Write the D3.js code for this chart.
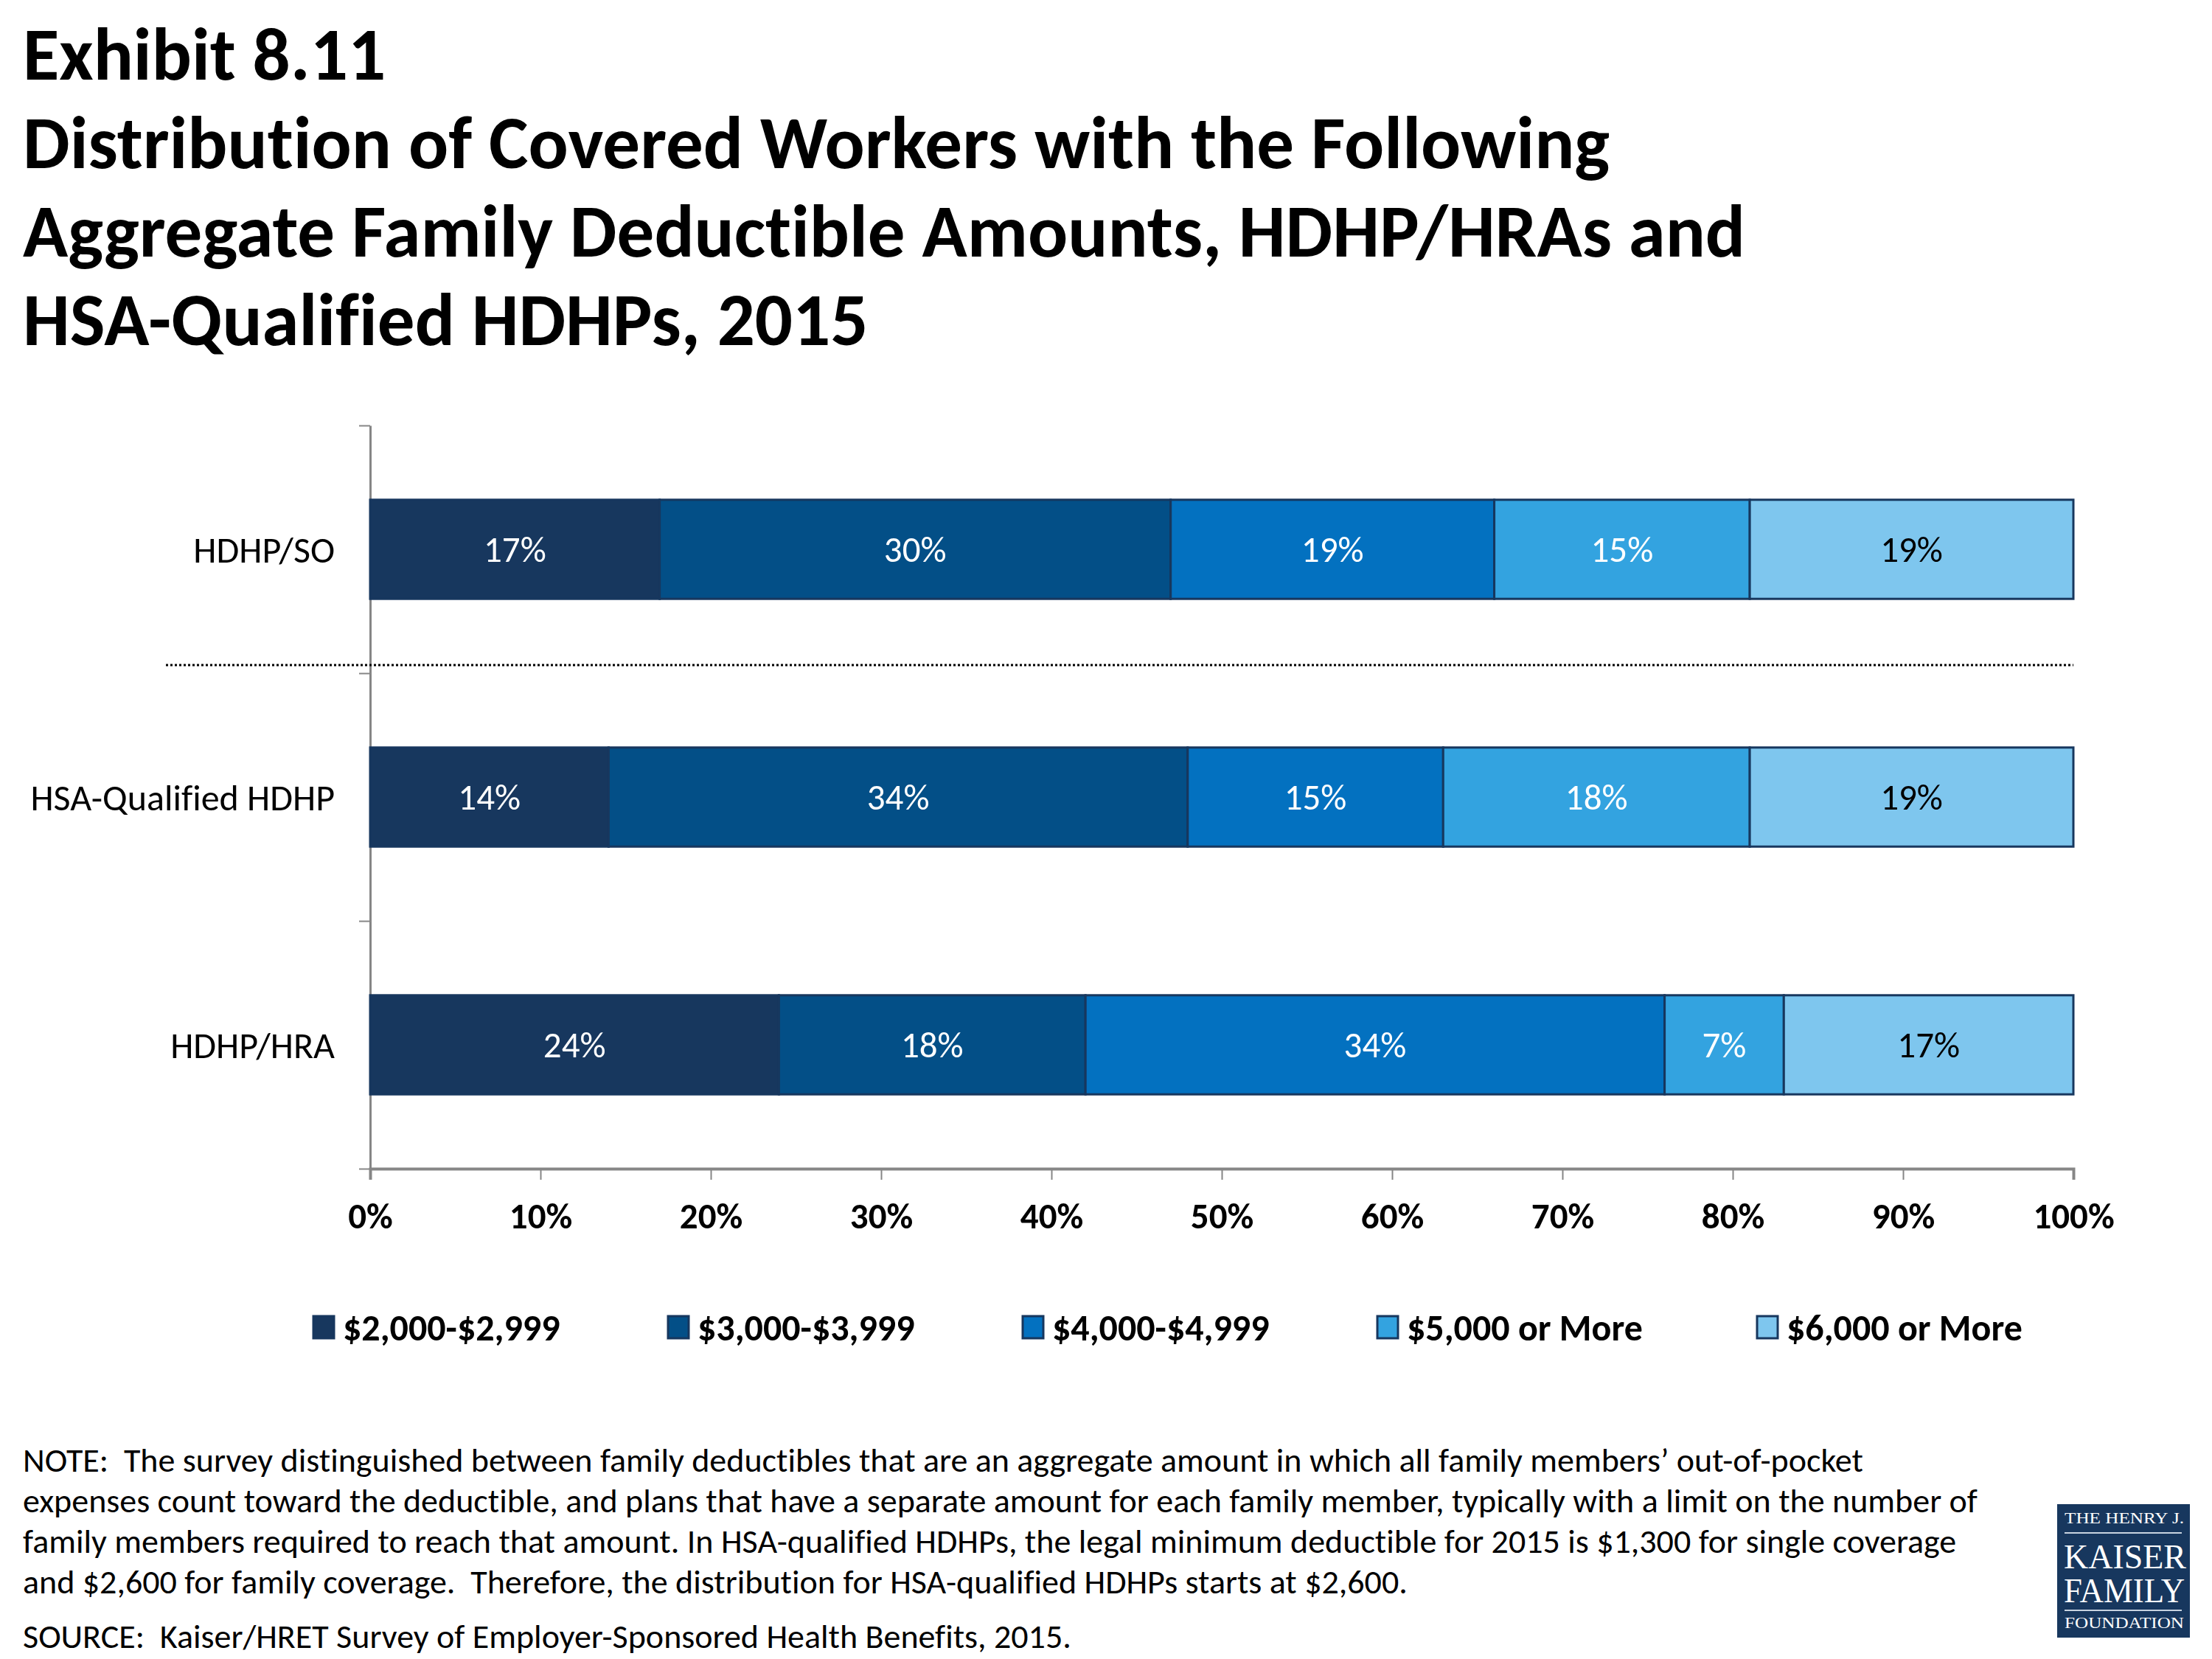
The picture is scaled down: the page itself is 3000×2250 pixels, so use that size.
<!DOCTYPE html>
<html>
  <head>
    <title>Exhibit 8.11</title>
    <script src="https://cdn.jsdelivr.net/npm/d3@7"></script>
    <style>
      body { margin: 0; background: #ffffff; }
      text { font-family: Carlito, Calibri, "Open Sans", "Noto Sans", sans-serif; font-variant-ligatures: none; white-space: pre; }
    </style>
  </head>
  <body>
    <svg width="3000" height="2250" id="mainsvg"></svg>
    <script>
        const categories = ['HDHP/SO', 'HSA-Qualified HDHP', 'HDHP/HRA'];
        const seriesNames = ['$2,000-$2,999', '$3,000-$3,999', '$4,000-$4,999', '$5,000 or More', '$6,000 or More'];
        const hdhpSO = [17, 30, 19, 15, 19];
        const hsaQualified = [14, 34, 15, 18, 19];
        const hdhpHRA = [24, 18, 34, 7, 17];
        const xTicks = [0, 10, 20, 30, 40, 50, 60, 70, 80, 90, 100];
        const colors = ['#17375E', '#034F87', '#0371C0', '#33A3E0', '#7EC6EE'];
        const labelColors = ['#ffffff', '#ffffff', '#ffffff', '#ffffff', '#000000'];

        const titleLines = [
            'Exhibit 8.11',
            'Distribution of Covered Workers with the Following',
            'Aggregate Family Deductible Amounts, HDHP/HRAs and',
            'HSA-Qualified HDHPs, 2015'
        ];
        const noteLines = [
            'NOTE:  The survey distinguished between family deductibles that are an aggregate amount in which all family members\u2019 out-of-pocket',
            'expenses count toward the deductible, and plans that have a separate amount for each family member, typically with a limit on the number of',
            'family members required to reach that amount. In HSA-qualified HDHPs, the legal minimum deductible for 2015 is $1,300 for single coverage',
            'and $2,600 for family coverage.  Therefore, the distribution for HSA-qualified HDHPs starts at $2,600.'
        ];
        const sourceLine = 'SOURCE:  Kaiser/HRET Survey of Employer-Sponsored Health Benefits, 2015.';

        const svg = d3.select('#mainsvg');
        const margin = {top: 577, left: 502, right: 188, bottom: 665};
        const width = 3000, height = 2250;

        // title
        svg.append('g').selectAll('text').data(titleLines).join('text')
            .attr('x', 31)
            .attr('y', (d, i) => 108 + i * 120)
            .attr('font-size', 101)
            .attr('font-weight', 'bold')
            .attr('fill', '#000')
            .text(d => d);

        const xScale = d3.scaleLinear().domain([0, 100]).range([margin.left, width - margin.right]);
        const yScale = d3.scaleBand().domain(categories).range([margin.top, height - margin.bottom])
            .paddingInner(0.6).paddingOuter(0.3);
        const yEdge = d3.scaleLinear().domain([0, categories.length]).range([margin.top, height - margin.bottom]);

        // stack the rows
        const rows = categories.map((c, i) => {
            const vals = [hdhpSO, hsaQualified, hdhpHRA][i];
            const row = {cat: c};
            seriesNames.forEach((s, j) => row[s] = vals[j]);
            return row;
        });
        const layers = d3.stack().keys(seriesNames)(rows);

        // axes
        const xAxis = d3.axisBottom(xScale).tickValues(xTicks).tickFormat(d => d + '%').tickSize(15).tickPadding(31);
        const gx = svg.append('g').attr('transform', `translate(0, ${height - margin.bottom})`).call(xAxis);
        gx.select('.domain').attr('stroke', '#868686').attr('stroke-width', 4);
        gx.selectAll('.tick line').attr('stroke', '#868686').attr('stroke-width', 2);
        gx.selectAll('.tick text').attr('font-size', 49).attr('font-weight', 'bold').attr('fill', '#000')
            .style('font-family', 'Carlito, Calibri, "Open Sans", sans-serif');

        const yAxis = d3.axisLeft(yEdge).tickValues(d3.range(categories.length + 1)).tickFormat('').tickSize(15).tickSizeOuter(0);
        const gy = svg.append('g').attr('transform', `translate(${margin.left}, 0)`).call(yAxis);
        gy.select('.domain').attr('stroke', '#868686').attr('stroke-width', 3);
        gy.selectAll('.tick line').attr('stroke', '#868686').attr('stroke-width', 2);

        // category labels
        svg.append('g').selectAll('text').data(categories).join('text')
            .attr('x', margin.left - 48)
            .attr('y', d => yScale(d) + yScale.bandwidth() / 2)
            .attr('dy', '0.35em')
            .attr('text-anchor', 'end')
            .attr('font-size', 50)
            .attr('fill', '#000')
            .text(d => d);

        // separator between HDHP/SO and the HDHP options
        svg.append('line')
            .attr('x1', 225).attr('x2', xScale(100))
            .attr('y1', yEdge(1) - 11).attr('y2', yEdge(1) - 11)
            .attr('stroke', '#000').attr('stroke-width', 3)
            .attr('stroke-dasharray', '3,3');

        // bars
        const gBars = svg.append('g');
        layers.forEach((layer, j) => {
            gBars.selectAll(null).data(layer).join('rect')
                .attr('x', d => xScale(d[0]))
                .attr('y', d => yScale(d.data.cat))
                .attr('width', d => xScale(d[1]) - xScale(d[0]))
                .attr('height', yScale.bandwidth())
                .attr('fill', colors[j])
                .attr('stroke', '#17375E')
                .attr('stroke-width', 3);
            gBars.selectAll(null).data(layer).join('text')
                .attr('x', d => (xScale(d[0]) + xScale(d[1])) / 2)
                .attr('y', d => yScale(d.data.cat) + yScale.bandwidth() / 2)
                .attr('dy', '0.35em')
                .attr('text-anchor', 'middle')
                .attr('font-size', 49)
                .attr('fill', labelColors[j])
                .text(d => (d[1] - d[0]) + '%');
        });

        // legend
        const legendX = [425, 906, 1387, 1868, 2383];
        const gLeg = svg.append('g').attr('transform', 'translate(0, 1800)');
        seriesNames.forEach((s, j) => {
            gLeg.append('rect')
                .attr('x', legendX[j]).attr('y', -15)
                .attr('width', 28).attr('height', 30)
                .attr('fill', colors[j]).attr('stroke', '#17375E').attr('stroke-width', 3);
            gLeg.append('text')
                .attr('x', legendX[j] + 40).attr('y', 0).attr('dy', '0.35em')
                .attr('font-size', 50).attr('font-weight', 'bold').attr('fill', '#000')
                .text(s);
        });

        // notes
        svg.append('g').selectAll('text').data(noteLines).join('text')
            .attr('x', 31)
            .attr('y', (d, i) => 1996 + i * 55)
            .attr('font-size', 46)
            .attr('fill', '#000')
            .text(d => d);
        svg.append('text')
            .attr('x', 31).attr('y', 2235)
            .attr('font-size', 46).attr('fill', '#000')
            .text(sourceLine);

        // logo
        const logo = svg.append('g').attr('transform', 'translate(2790, 2040)');
        logo.append('rect').attr('width', 180).attr('height', 181).attr('fill', '#17375E');
        const serif = '"Liberation Serif", "DejaVu Serif", serif';
        logo.append('text').attr('x', 10).attr('y', 26).attr('font-size', 20).attr('fill', '#fff')
            .style('font-family', serif).attr('textLength', 162).attr('lengthAdjust', 'spacingAndGlyphs').text('THE HENRY J.');
        logo.append('line').attr('x1', 10).attr('x2', 169).attr('y1', 39).attr('y2', 39).attr('stroke', '#c8d3e0').attr('stroke-width', 2);
        logo.append('text').attr('x', 9).attr('y', 87).attr('font-size', 46).attr('fill', '#fff')
            .style('font-family', serif).attr('textLength', 166).attr('lengthAdjust', 'spacingAndGlyphs').text('KAISER');
        logo.append('text').attr('x', 9).attr('y', 133).attr('font-size', 46).attr('fill', '#fff')
            .style('font-family', serif).attr('textLength', 164).attr('lengthAdjust', 'spacingAndGlyphs').text('FAMILY');
        logo.append('line').attr('x1', 10).attr('x2', 169).attr('y1', 144).attr('y2', 144).attr('stroke', '#c8d3e0').attr('stroke-width', 2);
        logo.append('text').attr('x', 10).attr('y', 168).attr('font-size', 20).attr('fill', '#fff')
            .style('font-family', serif).attr('textLength', 162).attr('lengthAdjust', 'spacingAndGlyphs').text('FOUNDATION');
    </script>
  </body>
</html>
